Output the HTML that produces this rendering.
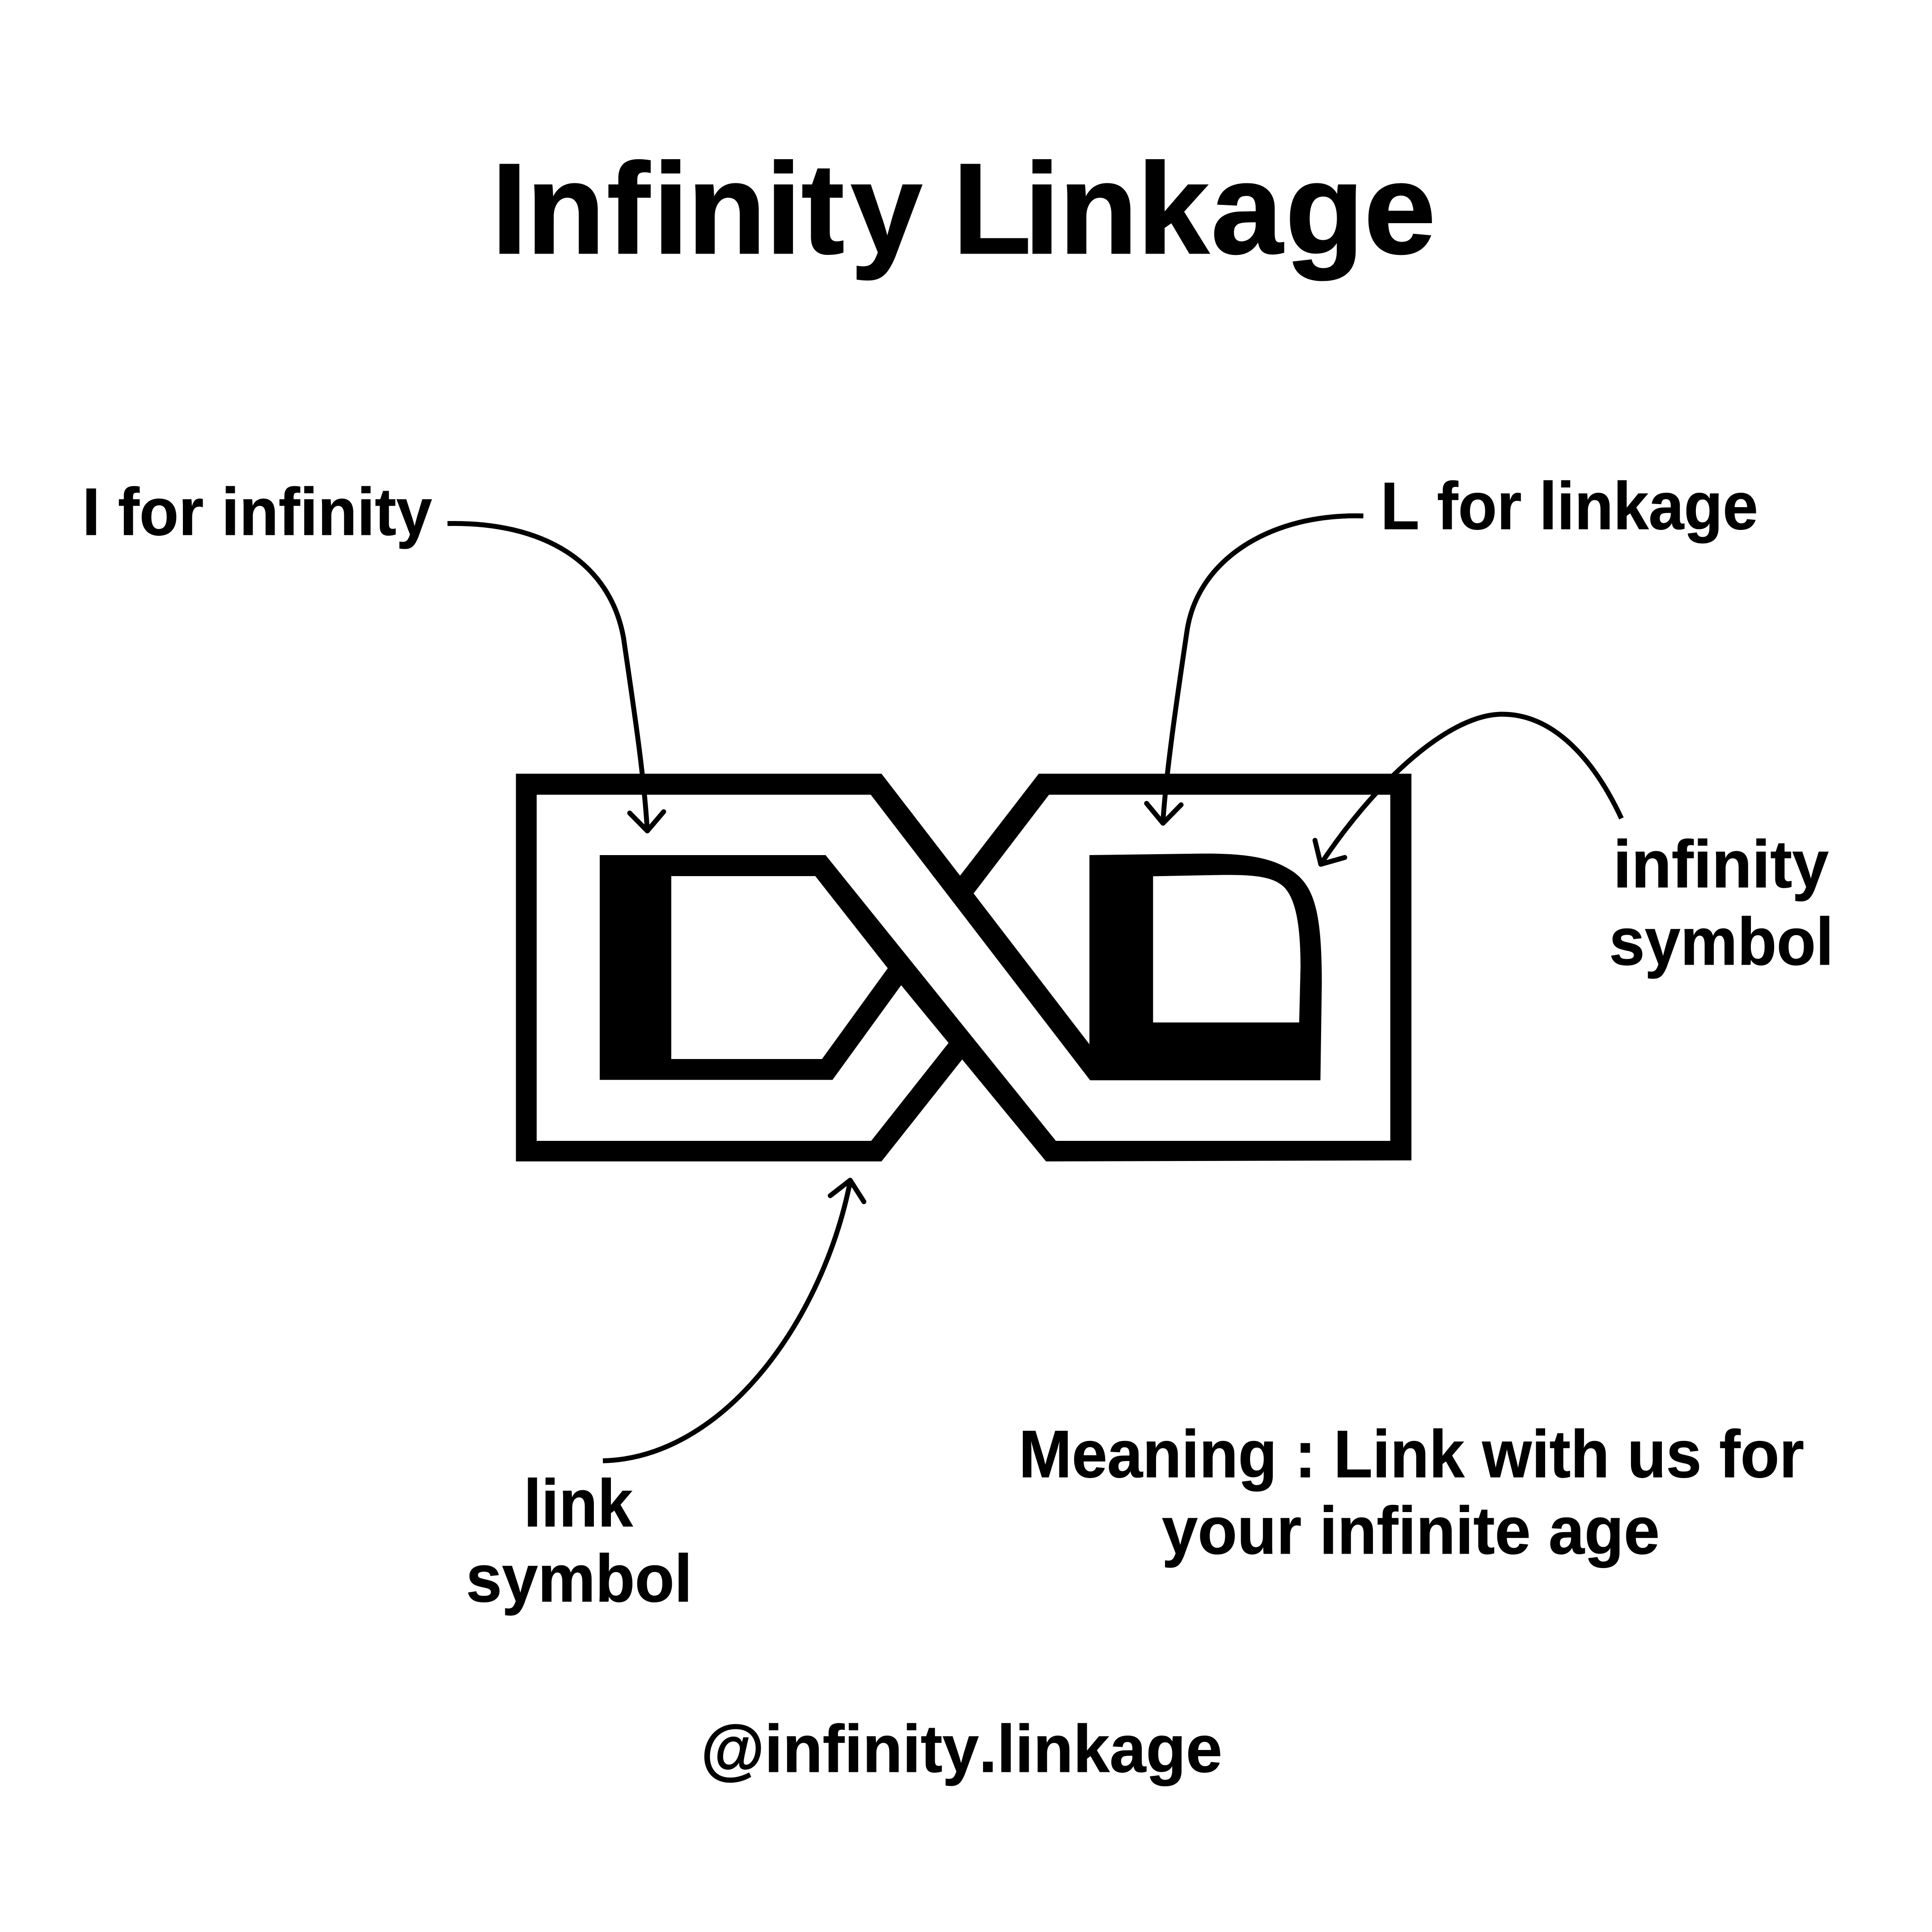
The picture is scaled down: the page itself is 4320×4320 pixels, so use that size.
<!DOCTYPE html>
<html><head><meta charset="utf-8"><style>
html,body{margin:0;padding:0;background:#fff}
svg{display:block}
text{font-family:"Liberation Sans",sans-serif;font-weight:700;fill:#000;stroke:#000;stroke-width:1px;font-size:150px;font-kerning:none}
</style></head><body>
<svg width="4320" height="4320" viewBox="0 0 4320 4320" xmlns="http://www.w3.org/2000/svg">
<rect width="4320" height="4320" fill="#fff"/>
<text x="1099 1177 1357 1460 1537 1712 1792 1902 2050 2130 2290 2368 2543 2708 2874 3050" y="566" style="font-size:288px;stroke-width:3px">Infinity Linkage</text>
<text x="184" y="1196" textLength="782" lengthAdjust="spacingAndGlyphs">I for infinity</text>
<text x="3087" y="1183" textLength="844" lengthAdjust="spacingAndGlyphs">L for linkage</text>
<text x="3607" y="1984" textLength="482" lengthAdjust="spacingAndGlyphs">infinity</text>
<text x="3598" y="2157" textLength="502" lengthAdjust="spacingAndGlyphs">symbol</text>
<text x="1171" y="3413" textLength="244" lengthAdjust="spacingAndGlyphs">link</text>
<text x="1042" y="3581" textLength="506" lengthAdjust="spacingAndGlyphs">symbol</text>
<text x="2278" y="3303" textLength="1756" lengthAdjust="spacingAndGlyphs">Meaning : Link with us for</text>
<text x="2598" y="3474" textLength="1113" lengthAdjust="spacingAndGlyphs">your infinite age</text>
<text x="1567" y="3962" textLength="1166" lengthAdjust="spacingAndGlyphs">@infinity.linkage</text>

<polygon fill="#000" points="1153.6,1730 1971,1730 2146.7,1958 2322.7,1730 3156,1730 3156,2594.6 2339,2597 2151.5,2369 1971,2597 1153.6,2597"/>
<path fill="#fff" d="M1200,1777 L1947,1777 L2437.5,2415.5 L2952.5,2415.5 L2955.6,2200 C2955.6,2040 2940,1975 2880,1942 C2830,1912 2760,1907 2660,1909 L2436,1912 L2436,2335 L2177,1997.7 L2345.7,1777 L3108.7,1777 L3108.7,2551 L2361,2551 L1846,1912 L1341,1912 L1341,2414.6 L1861.5,2414.6 L2015,2203 L2121,2332 L1948,2551 L1200,2551 Z"/>
<polygon fill="#fff" points="1501,1959 1823,1959 1985,2165 1838,2368 1501,2368"/>
<path fill="#fff" d="M2578.3,1959.4 L2700,1957 C2770,1955.5 2830,1955 2860,1975 C2895,1995 2908,2060 2908,2162 L2905,2286.2 L2578.3,2286.2 Z"/>

<g fill="none" stroke="#000" stroke-width="11" stroke-linejoin="round">
<path d="M1000.6,1170.6 C1215.3,1166.1 1364.6,1257.3 1394.4,1427.3 C1415,1570 1440,1730 1447,1853"/>
<path d="M1408,1818 L1447.4,1858 L1484,1815" stroke-linecap="round"/>
<path d="M3048.5,1153.6 C2844.1,1147.4 2678.3,1249 2654.2,1410.7 C2635,1540 2608,1720 2600.5,1836"/>
<path d="M2563.8,1796.4 L2600.5,1840.8 L2641,1799.5" stroke-linecap="round"/>
<path d="M3625.6,1830 C3565,1700 3475,1597 3359,1597 C3230,1597 3060,1770 2953.5,1932"/>
<path d="M2940.3,1879 L2953.3,1932.6 L3006.9,1917.3" stroke-linecap="round"/>
<path d="M1348,3266.4 C1620,3260 1840,2950 1901,2642"/>
<path d="M1856.5,2673.6 L1901,2639 L1931.7,2687" stroke-linecap="round"/>
</g>
</svg>
</body></html>
